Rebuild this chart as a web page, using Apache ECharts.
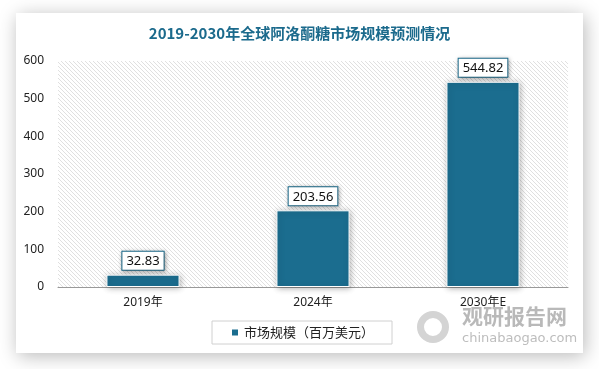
<!DOCTYPE html>
<html><head><meta charset="utf-8">
<script src="https://cdn.jsdelivr.net/npm/echarts@6/dist/echarts.min.js"></script>
<style>html,body{margin:0;padding:0;background:#fff}#c{width:599px;height:369px}</style>
</head><body><div id="c"></div>
<script>
const categories = ['2019年', '2024年', '2030年E'];
const values = [32.83, 203.56, 544.82];
const seriesName = '市场规模（百万美元）';
const titleText = '2019-2030年全球阿洛酮糖市场规模预测情况';

const pc = document.createElement('canvas');
pc.width = 4; pc.height = 4;
const g = pc.getContext('2d');
g.fillStyle = '#ffffff'; g.fillRect(0,0,4,4);
g.fillStyle = '#e0e0e0';
for (let i = 0; i < 4; i++) g.fillRect(i, i, 1, 1);

const font = "'Noto Sans', 'Noto Sans CJK SC', sans-serif";
const chart = echarts.init(document.getElementById('c'));
chart.setOption({
  backgroundColor: '#ffffff',
  animation: false,
  textStyle: { fontFamily: font },
  graphic: [
    { type: 'rect', z: -10, shape: { x: 16, y: 13, width: 567, height: 340 },
      style: { fill: '#fff', shadowBlur: 18, shadowOffsetX: 2, shadowOffsetY: 3, shadowColor: 'rgba(0,0,0,0.28)' } },
    { type: 'text', left: 462, top: 306, z: 1, style: { text: '观研报告网', fill: '#b9b9b9', font: "bold 21px 'Noto Sans CJK SC'" } },
    { type: 'text', left: 462, top: 332, z: 1, style: { text: 'chinabaogao.com', fill: '#bdbdbd', font: "13px 'DejaVu Sans'" } },
    { type: 'ring', z: 1, shape: { cx: 433, cy: 327, r: 16, r0: 9 }, style: { fill: '#d4d4d4' } }
  ],
  title: {
    text: titleText, left: 'center', top: 21,
    textStyle: { color: '#1b6a8c', fontSize: 15, fontWeight: 'bold', fontFamily: "'Noto Sans CJK SC', sans-serif" }
  },
  legend: {
    data: [seriesName], left: 212, top: 321,
    padding: [5, 18, 5, 18],
    borderColor: '#d0d0d0', borderWidth: 1,
    itemWidth: 8, itemHeight: 8, icon: 'rect',
    textStyle: { fontSize: 13, color: '#222', fontFamily: "'Noto Sans CJK SC', sans-serif" }
  },
  grid: {
    left: 58, right: 31, top: 61, bottom: 82, show: true,
    borderWidth: 0,
    backgroundColor: { image: pc, repeat: 'repeat' }
  },
  xAxis: {
    type: 'category', data: categories,
    axisLine: { lineStyle: { color: '#999', width: 1 } },
    axisTick: { show: false },
    axisLabel: { color: '#222', fontSize: 12, margin: 10 }
  },
  yAxis: {
    type: 'value', min: 0, max: 600, interval: 100,
    axisLine: { show: false }, axisTick: { show: false },
    splitLine: { show: false },
    axisLabel: { color: '#222', fontSize: 12, margin: 14 }
  },
  series: [{
    name: seriesName, type: 'bar', data: values, barWidth: '43%',
    itemStyle: { color: '#1b6d8f', borderColor: '#fff', borderWidth: 1,
      shadowBlur: 6, shadowColor: 'rgba(0,0,0,0.3)', shadowOffsetX: 1, shadowOffsetY: 1 },
    label: {
      show: true, position: 'top', distance: 5,
      color: '#111', fontSize: 13,
      backgroundColor: '#fff', borderColor: '#1b6d8f', borderWidth: 1,
      padding: [3, 4, 2, 4],
      shadowBlur: 4, shadowColor: 'rgba(0,0,0,0.3)', shadowOffsetX: 1, shadowOffsetY: 1
    }
  }]
});
</script></body></html>
